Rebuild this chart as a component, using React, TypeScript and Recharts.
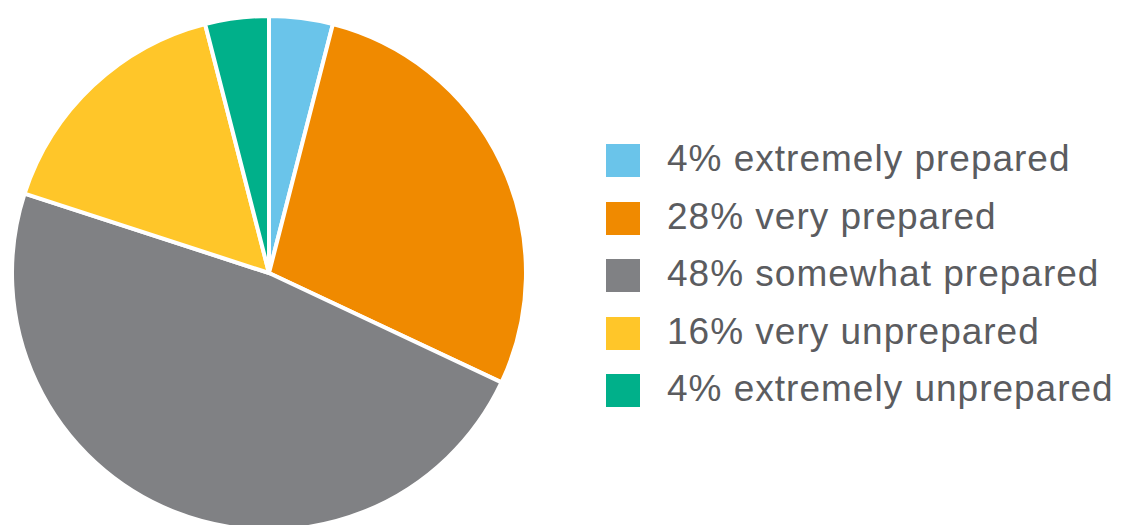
import React from "react";
import { PieChart, Pie, Cell, Legend } from "recharts";

const categories = ["extremely prepared", "very prepared", "somewhat prepared", "very unprepared", "extremely unprepared"];
const values = [4, 28, 48, 16, 4];
const colors = ["#6AC4EA", "#F08A00", "#808184", "#FFC629", "#00B08A"];

const data = categories.map((name, i) => ({ name, value: values[i], color: colors[i] }));

const renderLegend = () => (
  <div style={{ display: "flex", flexDirection: "column" }}>
    {data.map((d) => (
      <div key={d.name} style={{ display: "flex", alignItems: "center", height: 57.5 }}>
        <div style={{ width: 34, height: 33, background: d.color, flexShrink: 0 }} />
        <span
          style={{
            marginLeft: 27,
            fontFamily: "'Liberation Sans', Arial, sans-serif",
            fontSize: 37,
            letterSpacing: 1,
            color: "#5B5C5F",
            lineHeight: 1,
            whiteSpace: "nowrap",
            position: "relative",
            top: -2,
          }}
        >
          {`${d.value}% ${d.name}`}
        </span>
      </div>
    ))}
  </div>
);

export default function App() {
  return (
    <div style={{ position: "absolute", left: 0, top: 0, width: 1124, height: 525, background: "#fff", overflow: "hidden" }}>
      <PieChart width={1124} height={525} margin={{ top: 0, right: 0, bottom: 0, left: 0 }}>
        <Pie
          data={data}
          dataKey="value"
          nameKey="name"
          cx={269}
          cy={273}
          outerRadius={257}
          innerRadius={0}
          startAngle={90}
          endAngle={-270}
          stroke="#ffffff"
          strokeWidth={4}
          isAnimationActive={false}
        >
          {data.map((d) => (
            <Cell key={d.name} fill={d.color} />
          ))}
        </Pie>
        <Legend
          content={renderLegend}
          wrapperStyle={{ position: "absolute", left: 606, top: 132, width: "auto" }}
        />
      </PieChart>
    </div>
  );
}
